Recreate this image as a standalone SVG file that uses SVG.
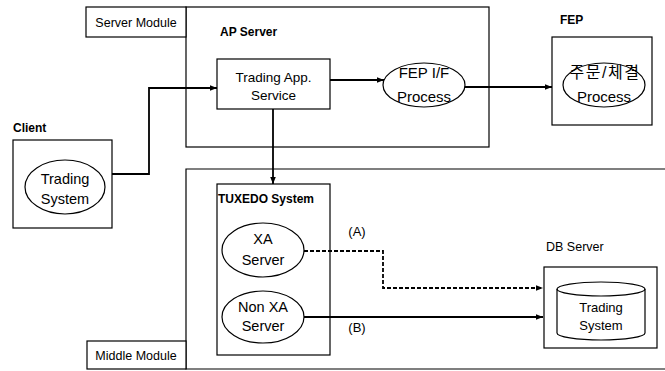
<svg xmlns="http://www.w3.org/2000/svg" width="665" height="371" viewBox="0 0 665 371">
<defs>
<marker id="ah" viewBox="0 0 10 10" refX="10" refY="5" markerWidth="7" markerHeight="7" markerUnits="userSpaceOnUse" orient="auto">
<path d="M0,1 L10,5 L0,9 z" fill="#000"/>
</marker>
<style>
.box{fill:#fff;stroke:#000;stroke-width:1.2}
.ov{fill:none;stroke:#000;stroke-width:1.2}
.t{font-family:"Liberation Sans",Arial,sans-serif;font-size:13.5px;fill:#000;text-anchor:middle}
.e{font-size:14.5px}
.lb{font-family:"Liberation Sans",Arial,sans-serif;font-size:12px;font-weight:bold;fill:#000}
.lbl{font-family:"Liberation Sans",Arial,sans-serif;font-size:12.5px;fill:#000}
.k{font-family:"Liberation Sans","Noto Sans CJK KR",sans-serif;font-size:16px;letter-spacing:1.5px;fill:#000;text-anchor:middle}
.c{fill:none;stroke:#000;stroke-width:1.8}
.d{fill:none;stroke:#000;stroke-width:1.8;stroke-dasharray:4 2}
</style>
</defs>
<rect width="665" height="371" fill="#fff"/>

<g id="server-module">
<rect class="box" x="186" y="7" width="303" height="140"/>
<rect class="box" x="86" y="7" width="100" height="30"/>
<text class="lbl" x="136" y="27" text-anchor="middle">Server Module</text>
<text class="lb" x="220" y="36">AP Server</text>
</g>

<g id="middle-module">
<path class="ov" d="M666,169 L186,169 L186,369 L666,369"/>
<rect class="box" x="87" y="341" width="99" height="28"/>
<text class="lbl" x="136" y="360" text-anchor="middle">Middle Module</text>
</g>

<g id="client">
<text class="lb" x="13" y="132">Client</text>
<rect class="box" x="13" y="140" width="99" height="88"/>
<ellipse class="ov" cx="65" cy="187" rx="40" ry="27"/>
<text class="t e" x="65" y="184">Trading</text>
<text class="t e" x="65" y="204">System</text>
</g>

<g id="trading-app-service">
<rect class="box" x="217" y="59" width="113" height="50"/>
<text class="t" x="273.5" y="82">Trading App.</text>
<text class="t" x="273.5" y="100">Service</text>
</g>

<g id="fep-if-process">
<ellipse class="ov" cx="424" cy="85" rx="41" ry="22"/>
<text class="t" x="424" y="78" style="font-size:15px">FEP I/F</text>
<text class="t" x="424" y="102" style="font-size:15px">Process</text>
</g>

<g id="fep">
<text class="lb" x="560" y="24">FEP</text>
<rect class="box" x="552" y="37" width="100" height="88"/>
<ellipse class="ov" cx="604" cy="85" rx="41" ry="22"/>
<text class="k" x="605" y="78">주문/체결</text>
<text class="t" x="604" y="102" style="font-size:15px">Process</text>
</g>

<g id="tuxedo-system">
<rect class="box" x="217" y="184" width="113" height="171"/>
<text class="lb" x="218" y="203">TUXEDO System</text>
</g>

<g id="xa-server">
<ellipse class="ov" cx="263" cy="250" rx="41" ry="27"/>
<text class="t e" x="263" y="244">XA</text>
<text class="t e" x="263" y="265">Server</text>
</g>

<g id="non-xa-server">
<ellipse class="ov" cx="263" cy="317" rx="41" ry="26"/>
<text class="t e" x="263" y="312">Non XA</text>
<text class="t e" x="263" y="331">Server</text>
</g>

<g id="db-server">
<text class="lbl" x="546" y="251">DB Server</text>
<rect class="box" x="544" y="267" width="113" height="81"/>
<path class="ov" d="M557,289 L557,333 A44,7 0 0 0 645,333 L645,289"/>
<ellipse class="ov" cx="601" cy="289" rx="44" ry="7"/>
<text class="t" x="601" y="312" style="font-size:13px">Trading</text>
<text class="t" x="601" y="330" style="font-size:13px">System</text>
</g>

<g id="connectors">
<path class="c" d="M112,174 L149,174 L149,88 L217,88" marker-end="url(#ah)"/>
<path class="c" d="M330,80 L384,80" marker-end="url(#ah)"/>
<path class="c" d="M465,87 L552,87" marker-end="url(#ah)"/>
<path class="c" d="M273,109 L273,184" marker-end="url(#ah)"/>
<path class="d" d="M304,251 L383,251 L383,288 L543,288" marker-end="url(#ah)"/>
<path class="c" d="M304,317 L543,317" marker-end="url(#ah)"/>
<text class="t" x="357" y="236" style="font-size:13px">(A)</text>
<text class="t" x="357" y="332" style="font-size:13px">(B)</text>
</g>
</svg>
